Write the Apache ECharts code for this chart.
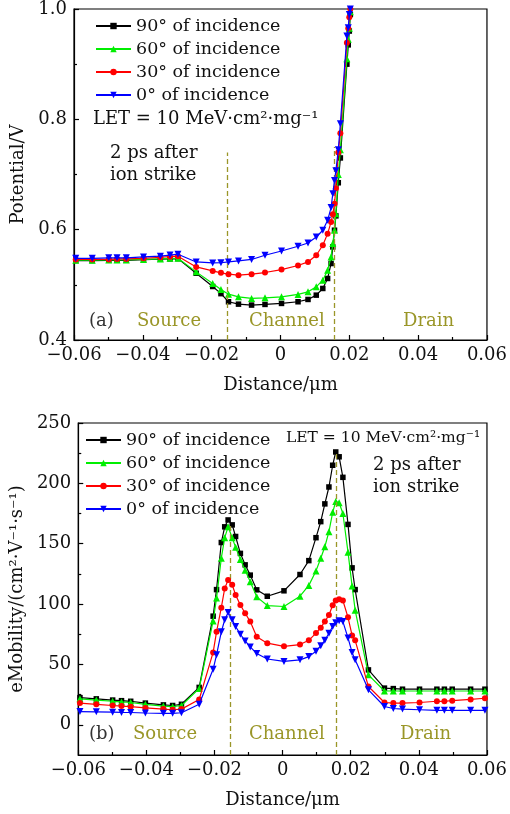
<!DOCTYPE html>
<html><head><meta charset="utf-8">
<script src="https://cdn.jsdelivr.net/npm/echarts@6/dist/echarts.min.js"></script>
<style>html,body{margin:0;padding:0;background:#fff}#c{width:510px;height:814px}</style>
</head><body><div id="c"></div>
<script>
// ---------- DATA (a) Potential ----------
const xPot = [-0.0595,-0.0547,-0.0499,-0.0475,-0.0448,-0.0398,-0.0349,-0.0321,-0.0298,-0.0245,-0.0197,-0.0173,-0.0151,-0.0122,-0.0084,-0.0045,0.0003,0.0051,0.0080,0.0104,0.0123,0.0137,0.0147,0.0152,0.0157,0.0161,0.0168,0.0174,0.0193,0.0197,0.0200,0.0203];
const pot90 = [0.5440,0.5440,0.5445,0.5445,0.5445,0.5455,0.5465,0.547,0.5475,0.521,0.497,0.484,0.4693,0.465,0.4633,0.4645,0.4663,0.4693,0.4735,0.4813,0.4934,0.5115,0.5386,0.5687,0.599,0.625,0.685,0.730,0.900,0.935,0.960,0.990];
const pot60 = [0.5446,0.5446,0.545,0.545,0.545,0.546,0.547,0.548,0.548,0.5235,0.5025,0.4916,0.4831,0.4783,0.4753,0.4765,0.4783,0.4826,0.4873,0.4963,0.5084,0.5265,0.5506,0.5747,0.599,0.629,0.700,0.745,0.910,0.945,0.965,0.995];
const pot30 = [0.546,0.546,0.546,0.547,0.547,0.548,0.550,0.551,0.552,0.5325,0.5253,0.5217,0.5193,0.5175,0.5193,0.5223,0.5277,0.535,0.5415,0.5536,0.5717,0.5928,0.6138,0.628,0.647,0.675,0.740,0.775,0.939,0.965,0.985,1.0];
const pot0  = [0.548,0.548,0.549,0.549,0.549,0.5505,0.552,0.554,0.5555,0.5415,0.5397,0.540,0.5415,0.5434,0.546,0.5536,0.5614,0.5699,0.5759,0.5867,0.599,0.617,0.640,0.665,0.689,0.707,0.745,0.792,0.951,0.966,0.990,1.0];

// ---------- DATA (b) eMobility ----------
const xMob = [-0.0595,-0.0547,-0.0499,-0.0473,-0.0446,-0.0403,-0.0350,-0.0323,-0.0297,-0.0245,-0.0204,-0.0194,-0.0180,-0.0170,-0.0160,-0.0148,-0.0138,-0.0124,-0.0110,-0.0095,-0.0076,-0.0045,0.0004,0.0051,0.0077,0.0098,0.0112,0.0124,0.0136,0.0147,0.0156,0.0166,0.0177,0.0192,0.0204,0.0213,0.0252,0.0299,0.0325,0.0352,0.0402,0.0453,0.0475,0.0498,0.0552,0.0594];
const mob90 = [22.5,21.5,20.5,20,19.5,18,16.5,16,17,31,90,112,151,164,169.7,165.6,156,142,132.5,124,111.8,106.5,111,124.5,136,155,168.3,183,197,215,226,222,205,166,130,112,45.5,30.4,30,29.5,29.5,29.5,29.5,29.5,29.5,29.5];
const mob60 = [21.5,20.5,19.5,19,18.5,17,15.5,15,16,30,86,105,138,155,164,155,147,137,128,118.5,106,98.8,98,106.5,115.5,127.5,138,147.5,160,176,185,184,175,143,115,95,41.4,28,28,28,28,28,28,28,28,28];
const mob30 = [18,17,16,15.5,15,14,13,12.5,13,21,60,77,97,113,120,116,107.6,99.3,92.4,85.5,73,67.6,65,66.5,70,76,80.5,85.5,91,99,103,104,103,89,74,70,31.7,18.5,18,18,18.5,19.5,19.5,20,21,22];
const mob0  = [11,10.8,10.5,10.3,10.2,9.8,9.5,9.5,10,17,46,58,77,87,93,87,81.4,75,69.5,64.5,59,54.5,52.5,53.8,56.5,61,65.5,70,75.9,81.5,84.5,86.3,85.5,72,60,53.8,29,15.2,13.5,13,12.5,12,12,12,12,12];

const seriesNames = ['90° of incidence','60° of incidence','30° of incidence','0° of incidence'];
const boundaries = [-0.0155, 0.0157];
const potDashTop = [0.74, 0.75];
const mobDashTop = [165, 226];
const mobMajorTicks = [0, 50, 100, 150, 200, 250];
const mobMinorTicks = [25, 75, 125, 175, 225];

// ---------- STYLE ----------
const FONT = "'DejaVu Serif','Liberation Serif',serif";
const OLIVE = '#9a9628';
const colors = ['#000000','#00ee00','#ff0000','#0000ff'];
const symbols = ['rect','triangle','circle','path://M0,0L2,0L1,1.75Z'];
const symSizes = [5.5,7,6,7];

function zip(xs, ys){ return xs.map((x,i)=>[x, ys[i]]); }
function fmtX(v){ if (Math.abs(v) < 1e-9) return '0'; const s = Math.abs(v).toFixed(2); return (v<0?'\u2212':'') + s; }

const chart = echarts.init(document.getElementById('c'), null, {renderer:'canvas'});

const potData = [pot90, pot60, pot30, pot0];
const mobData = [mob90, mob60, mob30, mob0];

const series = [];
for (let k=0;k<4;k++){
  series.push({name: seriesNames[k], type:'line', xAxisIndex:0, yAxisIndex:0, data: zip(xPot, potData[k]),
    symbol: symbols[k], symbolSize: symSizes[k], showAllSymbol:true, color: colors[k],
    lineStyle:{width:1.2, color: colors[k]}, itemStyle:{color: colors[k]}, z: 3+k, animation:false});
}
for (let k=0;k<4;k++){
  series.push({name: seriesNames[k], type:'line', xAxisIndex:1, yAxisIndex:1, data: zip(xMob, mobData[k]),
    symbol: symbols[k], symbolSize: symSizes[k], showAllSymbol:true, color: colors[k],
    lineStyle:{width:1.2, color: colors[k]}, itemStyle:{color: colors[k]}, z: 3+k, animation:false});
}
const dashStyle = {type:[5,3], color: OLIVE, width:1.3};
series.push({type:'line', xAxisIndex:0, yAxisIndex:0, data:[], silent:true, animation:false,
  markLine:{symbol:['none','none'], silent:true, animation:false, label:{show:false}, lineStyle: dashStyle,
    data: boundaries.map((b,i)=>[{coord:[b,0.4]},{coord:[b,potDashTop[i]]}])}});
series.push({type:'line', xAxisIndex:1, yAxisIndex:1, data:[], silent:true, animation:false,
  markLine:{symbol:['none','none'], silent:true, animation:false, label:{show:false}, lineStyle: dashStyle,
    data: boundaries.map((b,i)=>[{coord:[b,-25]},{coord:[b,mobDashTop[i]]}])}});
series.push({type:'line', xAxisIndex:1, yAxisIndex:2, data:[], silent:true});

const txt = {fontFamily: FONT, fontSize: 18, color:'#111'};

function xAxisCfg(gi){
  return {gridIndex: gi, type:'value', min:-0.06, max:0.06, interval:0.02,
    axisLine:{onZero:false, lineStyle:{color:'#000', width:1.2}},
    axisTick:{inside:true, length:5, lineStyle:{color:'#000', width:1.2}},
    minorTick:{show:true, splitNumber:2, length:3, lineStyle:{color:'#000', width:1.2}},
    splitLine:{show:false},
    axisLabel:{formatter: fmtX, margin:6, fontFamily:FONT, fontSize:18, color:'#111'},
    name:'Distance/\u03bcm', nameLocation:'middle', nameGap:36, nameTextStyle: txt};
}

const option = {
  animation:false,
  backgroundColor:'#fff',
  grid:[
    {left:74, top:8, width:416.7, height:332, show:true, borderColor:'#000', borderWidth:1.2},
    {left:73.3, top:423, width:416, height:332, show:true, borderColor:'#000', borderWidth:1.2}
  ],
  xAxis:[xAxisCfg(0), xAxisCfg(1)],
  yAxis:[
    {gridIndex:0, type:'value', min:0.4, max:1.0, interval:0.2,
      axisLine:{onZero:false, lineStyle:{color:'#000', width:1.2}},
      axisTick:{inside:true, length:5, lineStyle:{color:'#000', width:1.2}},
      minorTick:{show:true, splitNumber:2, length:3, lineStyle:{color:'#000', width:1.2}},
      splitLine:{show:false},
      axisLabel:{formatter:(v)=>v.toFixed(1), margin:7, fontFamily:FONT, fontSize:18, color:'#111'},
      name:'Potential/V', nameLocation:'middle', nameGap:46, nameTextStyle: txt},
    {gridIndex:1, type:'value', min:-25, max:250,
      axisLine:{onZero:false, lineStyle:{color:'#000', width:1.2}},
      axisTick:{inside:true, length:5, customValues: mobMajorTicks, lineStyle:{color:'#000', width:1.2}},
      splitLine:{show:false},
      axisLabel:{customValues: mobMajorTicks, margin:7, fontFamily:FONT, fontSize:18, color:'#111'},
      name:'eMobility/(cm\u00b2\u00b7V\u207b\u00b9\u00b7s\u207b\u00b9)', nameLocation:'middle', nameGap:46, nameTextStyle: txt},
    {gridIndex:1, type:'value', min:-25, max:250, position:'left',
      axisLine:{show:false, onZero:false},
      axisTick:{inside:true, length:3, customValues: mobMinorTicks, lineStyle:{color:'#000', width:1.2}},
      splitLine:{show:false}, axisLabel:{show:false}}
  ],
  legend:[
    {data: seriesNames.map(n=>({name:n})), orient:'vertical', left:90, top:11, itemWidth:35, itemHeight:8, itemGap:3,
      textStyle:{fontFamily:FONT, fontSize:17.5, color:'#111', lineHeight:20}, selectedMode:false},
    {data: seriesNames.map(n=>({name:n})), orient:'vertical', left:80, top:425, itemWidth:35, itemHeight:8, itemGap:3,
      textStyle:{fontFamily:FONT, fontSize:17.5, color:'#111', lineHeight:20}, selectedMode:false}
  ],
  graphic:[
    {type:'text', left:93, top:110, style:{text:'LET = 10 MeV\u00b7cm\u00b2\u00b7mg\u207b\u00b9', font:'18px '+FONT, fill:'#111'}},
    {type:'text', left:110, top:144, style:{text:'2 ps after', font:'18px '+FONT, fill:'#111'}},
    {type:'text', left:110, top:166, style:{text:'ion strike', font:'18px '+FONT, fill:'#111'}},
    {type:'text', left:89, top:312, style:{text:'(a)', font:'18px '+FONT, fill:'#333'}},
    {type:'text', left:137, top:312, style:{text:'Source', font:'18px '+FONT, fill:OLIVE}},
    {type:'text', left:249, top:312, style:{text:'Channel', font:'18px '+FONT, fill:OLIVE}},
    {type:'text', left:403, top:312, style:{text:'Drain', font:'18px '+FONT, fill:OLIVE}},
    {type:'text', left:286, top:430, style:{text:'LET = 10 MeV\u00b7cm\u00b2\u00b7mg\u207b\u00b9', font:'15.5px '+FONT, fill:'#111'}},
    {type:'text', left:373, top:456, style:{text:'2 ps after', font:'18px '+FONT, fill:'#111'}},
    {type:'text', left:373, top:478, style:{text:'ion strike', font:'18px '+FONT, fill:'#111'}},
    {type:'text', left:89, top:725, style:{text:'(b)', font:'18px '+FONT, fill:'#333'}},
    {type:'text', left:133, top:725, style:{text:'Source', font:'18px '+FONT, fill:OLIVE}},
    {type:'text', left:249, top:725, style:{text:'Channel', font:'18px '+FONT, fill:OLIVE}},
    {type:'text', left:400, top:725, style:{text:'Drain', font:'18px '+FONT, fill:OLIVE}}
  ],
  series: series
};
chart.setOption(option);
</script></body></html>
